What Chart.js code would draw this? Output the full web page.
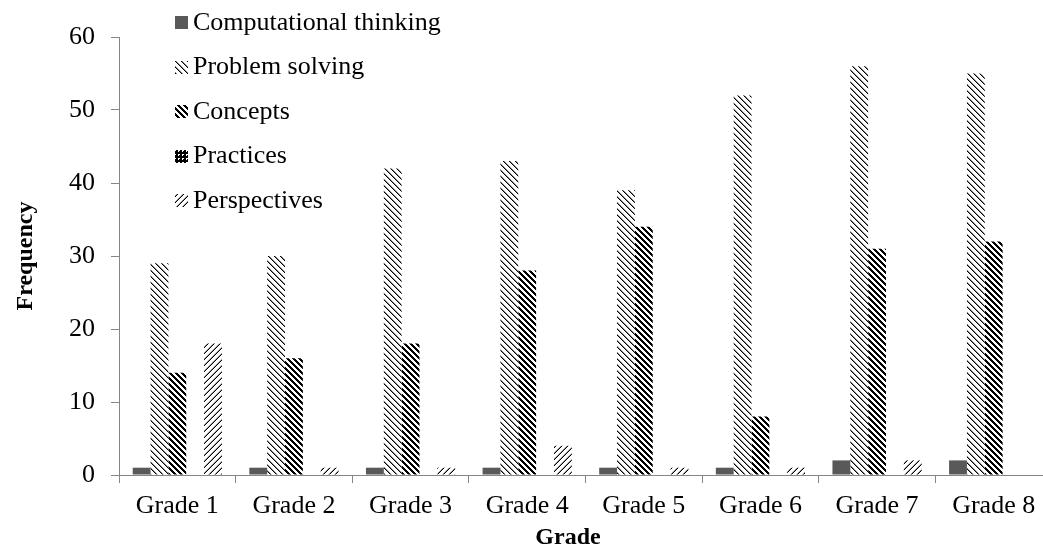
<!DOCTYPE html>
<html>
<head>
<meta charset="utf-8">
<script src="https://cdn.jsdelivr.net/npm/chart.js@4"></script>
<style>
  html, body { margin: 0; padding: 0; background: #fff; overflow: hidden; }
</style>
</head>
<body>
<canvas id="gradeChart" width="1055" height="556"></canvas>
<script>
// Data
const grades = ['Grade 1', 'Grade 2', 'Grade 3', 'Grade 4', 'Grade 5', 'Grade 6', 'Grade 7', 'Grade 8'];
const seriesNames = ['Computational thinking', 'Problem solving', 'Concepts', 'Practices', 'Perspectives'];
const computationalThinking = [1, 1, 1, 1, 1, 1, 2, 2];
const problemSolving = [29, 30, 42, 43, 39, 52, 56, 55];
const concepts = [14, 16, 18, 28, 34, 8, 31, 32];
const practices = [0, 0, 0, 0, 0, 0, 0, 0];
const perspectives = [18, 1, 1, 4, 1, 1, 2, 0];
const yTicks = [0, 10, 20, 30, 40, 50, 60];

const AXIS_GREY = '#868686';
const FONT = '"Liberation Serif", "Times New Roman", serif';

// Small pixel tiles for the Excel-like fill patterns
function makePattern(size, draw) {
  const c = document.createElement('canvas');
  c.width = size; c.height = size;
  const g = c.getContext('2d');
  g.fillStyle = '#fff';
  g.fillRect(0, 0, size, size);
  draw(g, size);
  return g.createPattern(c, 'repeat');
}

// light downward diagonal
const problemFill = makePattern(6, (g, n) => {
  for (let i = 0; i < n; i++) {
    g.fillStyle = '#000'; g.fillRect(i, i, 1, 1);
    g.fillStyle = '#888'; g.fillRect((i + 1) % n, i, 1, 1);
  }
});
// dark wide downward diagonal
const conceptsFill = makePattern(6, (g, n) => {
  g.fillStyle = '#000';
  for (let i = 0; i < n; i++) {
    for (let k = 0; k < 3; k++) g.fillRect((i + k) % n, i, 1, 1);
  }
});
// dark grid
const practicesFill = makePattern(4, (g, n) => {
  g.fillStyle = '#000';
  g.fillRect(0, 0, n, 2);
  g.fillRect(0, 0, 2, n);
  g.fillRect(3, 3, 1, 1);
});
// light upward diagonal
const perspectivesFill = makePattern(6, (g, n) => {
  for (let i = 0; i < n; i++) {
    g.fillStyle = '#000'; g.fillRect(n - 1 - i, i, 1, 1);
    g.fillStyle = '#999'; g.fillRect((2 * n - 2 - i) % n, i, 1, 1);
  }
});

const fills = ['#595959', problemFill, conceptsFill, practicesFill, perspectivesFill];
const values = [computationalThinking, problemSolving, concepts, practices, perspectives];

// Vertical legend in the top-left corner of the plot, plus the x title
// (the original centres "Grade" a little left of the plot centre)
const sideLegend = {
  id: 'sideLegend',
  afterDraw(chart) {
    const ctx = chart.ctx;
    ctx.save();
    ctx.font = '26px ' + FONT;
    ctx.textBaseline = 'middle';
    ctx.textAlign = 'left';
    chart.data.datasets.forEach((ds, i) => {
      const y = 22 + i * 44.5;
      ctx.fillStyle = ds.backgroundColor;
      ctx.fillRect(175, Math.round(y - 6), 13, 13);
      ctx.fillStyle = '#000';
      ctx.fillText(ds.label, 193, y + 1);
    });
    ctx.font = 'bold 24px ' + FONT;
    ctx.textAlign = 'center';
    ctx.fillText('Grade', 568, 538);
    ctx.restore();
  }
};

const ctx = document.getElementById('gradeChart').getContext('2d');
new Chart(ctx, {
  type: 'bar',
  data: {
    labels: grades,
    datasets: seriesNames.map((name, i) => ({
      label: name,
      data: values[i],
      backgroundColor: fills[i],
      borderWidth: 0,
      barPercentage: 1,
      categoryPercentage: 0.765
    }))
  },
  options: {
    responsive: false,
    animation: false,
    layout: { padding: { top: 37, right: 3, left: 0, bottom: 0 } },
    plugins: {
      legend: { display: false },
      tooltip: { enabled: false }
    },
    scales: {
      x: {
        grid: { display: true, drawOnChartArea: false, tickLength: 8, color: AXIS_GREY, offset: true },
        border: { color: AXIS_GREY, width: 1 },
        ticks: { color: '#000', font: { family: FONT, size: 26 }, padding: 8, maxRotation: 0 },
        afterFit: (scale) => { scale.height = 81; }
      },
      y: {
        min: 0,
        max: 60,
        afterBuildTicks: (scale) => { scale.ticks = yTicks.map(v => ({ value: v })); },
        grid: { display: true, drawOnChartArea: false, tickLength: 8, color: AXIS_GREY },
        border: { color: AXIS_GREY, width: 1 },
        ticks: { color: '#000', font: { family: FONT, size: 26 }, padding: 16 },
        title: { display: true, text: 'Frequency', color: '#000', font: { family: FONT, size: 24, weight: 'bold' }, padding: { top: 11, bottom: 0 } },
        afterFit: (scale) => { scale.width = 119; }
      }
    }
  },
  plugins: [sideLegend]
});
</script>
</body>
</html>
